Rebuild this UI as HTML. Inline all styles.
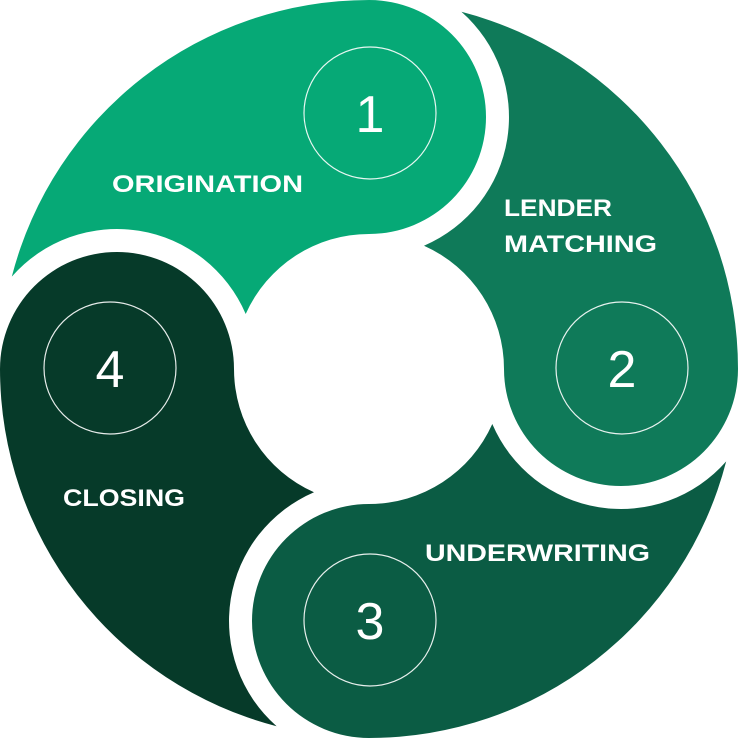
<!DOCTYPE html>
<html><head><meta charset="utf-8"><style>
html,body{margin:0;padding:0;background:#fff;}
svg{display:block;}
text{font-family:"Liberation Sans",sans-serif;fill:#fff;}
.l{font-weight:bold;font-size:24px;}
.n{font-size:52px;}
</style></head><body>
<svg width="739" height="739" viewBox="0 0 739 739">
<defs>
<path id="seg" d="M11.8,276.6 A369,369 0 0 1 369,0 A117,117 0 0 1 369,234 A135,135 0 0 0 245.7,314 A140,140 0 0 0 11.8,276.6 Z"/>
</defs>
<use href="#seg" fill="#06A976"/>
<use href="#seg" fill="#0F7A59" transform="rotate(90 369 369)"/>
<use href="#seg" fill="#0B5C44" transform="rotate(180 369 369)"/>
<use href="#seg" fill="#063A29" transform="rotate(270 369 369)"/>
<g fill="none" stroke="#fff" stroke-width="1.2" opacity="0.9">
<circle cx="370" cy="113" r="66"/>
<circle cx="622" cy="368" r="66"/>
<circle cx="370" cy="620" r="66"/>
<circle cx="110" cy="368" r="66"/>
</g>
<text class="n" x="370" y="132" text-anchor="middle">1</text>
<text class="n" x="622" y="387" text-anchor="middle">2</text>
<text class="n" x="370" y="639" text-anchor="middle">3</text>
<text class="n" x="110" y="387" text-anchor="middle">4</text>
<text class="l" x="112" y="192" textLength="191" lengthAdjust="spacingAndGlyphs">ORIGINATION</text>
<text class="l" x="504" y="216" textLength="108" lengthAdjust="spacingAndGlyphs">LENDER</text>
<text class="l" x="504" y="252" textLength="153" lengthAdjust="spacingAndGlyphs">MATCHING</text>
<text class="l" x="425" y="561" textLength="225" lengthAdjust="spacingAndGlyphs">UNDERWRITING</text>
<text class="l" x="63" y="506" textLength="122" lengthAdjust="spacingAndGlyphs">CLOSING</text>
</svg>
</body></html>
